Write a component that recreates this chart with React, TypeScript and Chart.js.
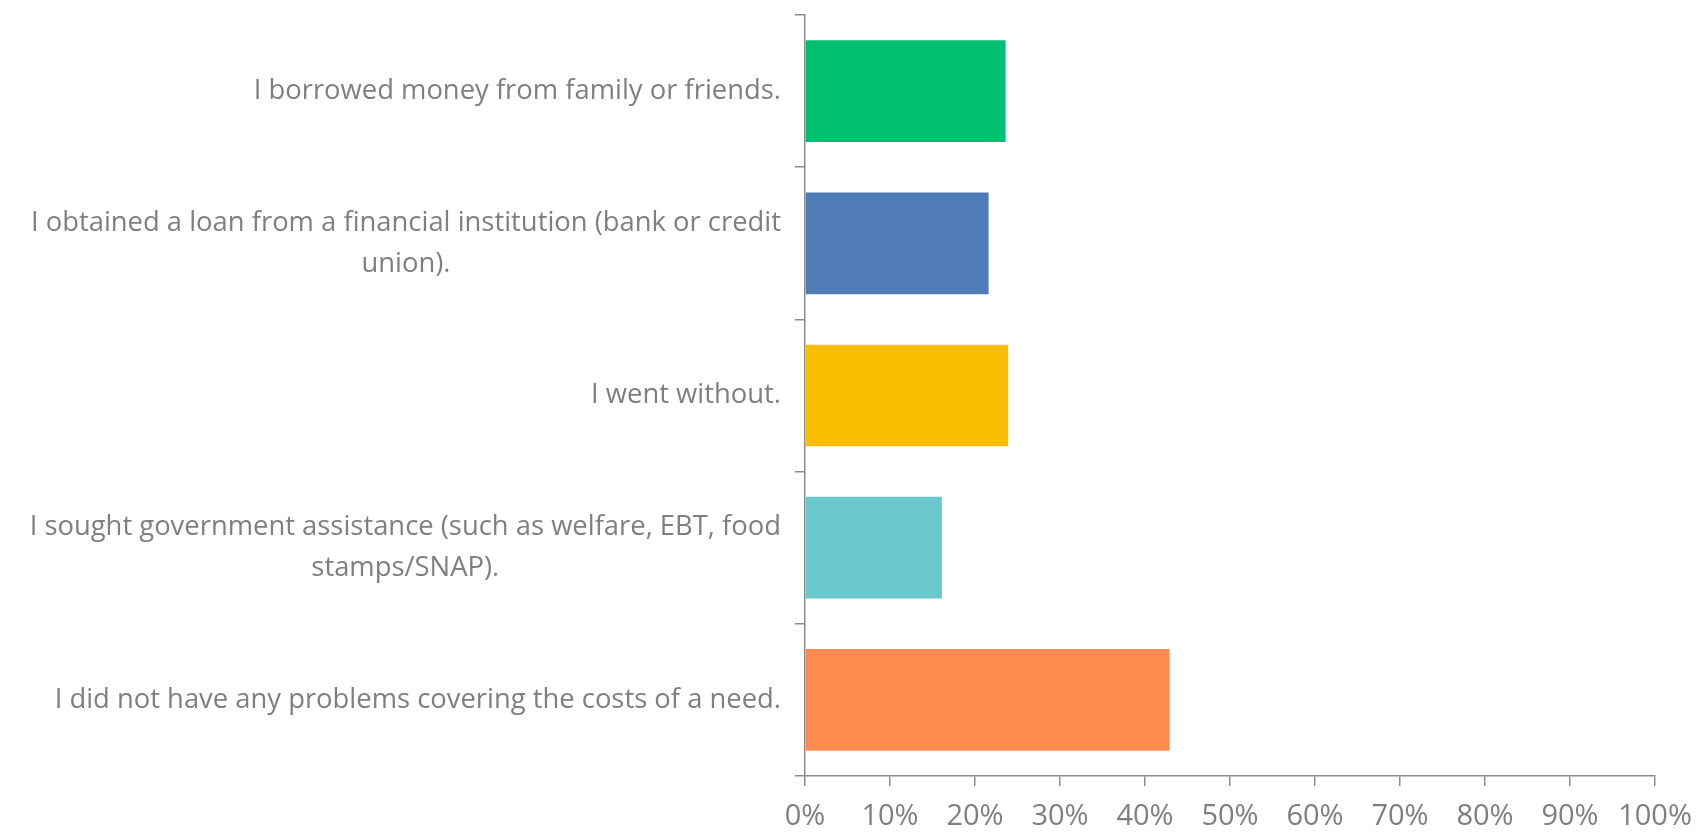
import React, { useEffect, useRef } from "react";
import { Chart, registerables } from "chart.js";

Chart.register(...registerables);

const categories: string[][] = [
  ["I borrowed money from family or friends."],
  ["I obtained a loan from a financial institution (bank or credit", "union)."],
  ["I went without."],
  ["I sought government assistance (such as welfare, EBT, food", "stamps/SNAP)."],
  ["I did not have any problems covering the costs of a need."],
];
const values: number[] = [23.6, 21.6, 23.9, 16.1, 42.9];
const barColors: string[] = ["#00BF6F", "#507CB6", "#F9BE00", "#6BC8CD", "#FF8B4F"];
const xTicks: number[] = [0, 10, 20, 30, 40, 50, 60, 70, 80, 90, 100];

const FONT = '"Open Sans", "DejaVu Sans", sans-serif';
const FONT_SIZE = 27.4;
const TEXT_COLOR = "#7f7f7f";
const AXIS_COLOR = "#8c8c8c";
const LINE_H = 41;

const yLabelPlugin = {
  id: "yLabels",
  afterDraw(chart: any) {
    const ctx = chart.ctx;
    const y = chart.scales.y;
    const right = chart.chartArea.left - 24;
    ctx.save();
    ctx.font = `${FONT_SIZE}px ${FONT}`;
    ctx.fillStyle = TEXT_COLOR;
    ctx.textAlign = "center";
    ctx.textBaseline = "middle";
    categories.forEach((lines, i) => {
      const cy = y.getPixelForValue(i);
      const w = Math.max(...lines.map((l) => ctx.measureText(l).width));
      const cx = right - w / 2;
      lines.forEach((l, j) => {
        ctx.fillText(l, cx, cy + (j - (lines.length - 1) / 2) * LINE_H);
      });
    });
    ctx.restore();
  },
};

export default function App() {
  const ref = useRef<HTMLCanvasElement>(null);
  useEffect(() => {
    document.body.style.margin = "0";
    const chart = new Chart(ref.current!, {
      type: "bar",
      data: {
        labels: categories.map((c) => c.join(" ")),
        datasets: [
          {
            data: values,
            backgroundColor: barColors,
            categoryPercentage: 1,
            barPercentage: 0.668,
          },
        ],
      },
      options: {
        indexAxis: "y",
        animation: false,
        responsive: true,
        maintainAspectRatio: false,
        layout: { padding: { left: 0, top: 15, right: 41, bottom: 0 } },
        plugins: { legend: { display: false }, tooltip: { enabled: false } },
        scales: {
          y: {
            type: "category",
            offset: true,
            ticks: { display: false },
            grid: {
              display: true,
              offset: true,
              drawOnChartArea: false,
              drawTicks: true,
              tickLength: 10,
              color: AXIS_COLOR,
              lineWidth: 1.5,
            },
            border: { display: true, color: AXIS_COLOR, width: 1.5 },
            afterFit: (s: any) => {
              s.width = 805;
            },
          },
          x: {
            type: "linear",
            min: 0,
            max: 100,
            afterBuildTicks: (s: any) => {
              s.ticks = xTicks.map((v) => ({ value: v }));
            },
            ticks: {
              callback: (v: any) => v + "%",
              color: TEXT_COLOR,
              font: { family: FONT, size: 29 },
              padding: 13,
              maxRotation: 0,
            },
            grid: {
              display: true,
              drawOnChartArea: false,
              drawTicks: true,
              tickLength: 10,
              color: AXIS_COLOR,
              lineWidth: 1.5,
            },
            border: { display: true, color: AXIS_COLOR, width: 1.5 },
            afterFit: (s: any) => {
              s.height = 60;
              s.paddingRight = 0;
              s.paddingLeft = 0;
            },
          },
        },
      },
      plugins: [yLabelPlugin],
    });
    return () => chart.destroy();
  }, []);
  return (
    <div style={{ position: "fixed", left: 0, top: 0, width: 1696, height: 836 }}>
      <canvas ref={ref} />
    </div>
  );
}
